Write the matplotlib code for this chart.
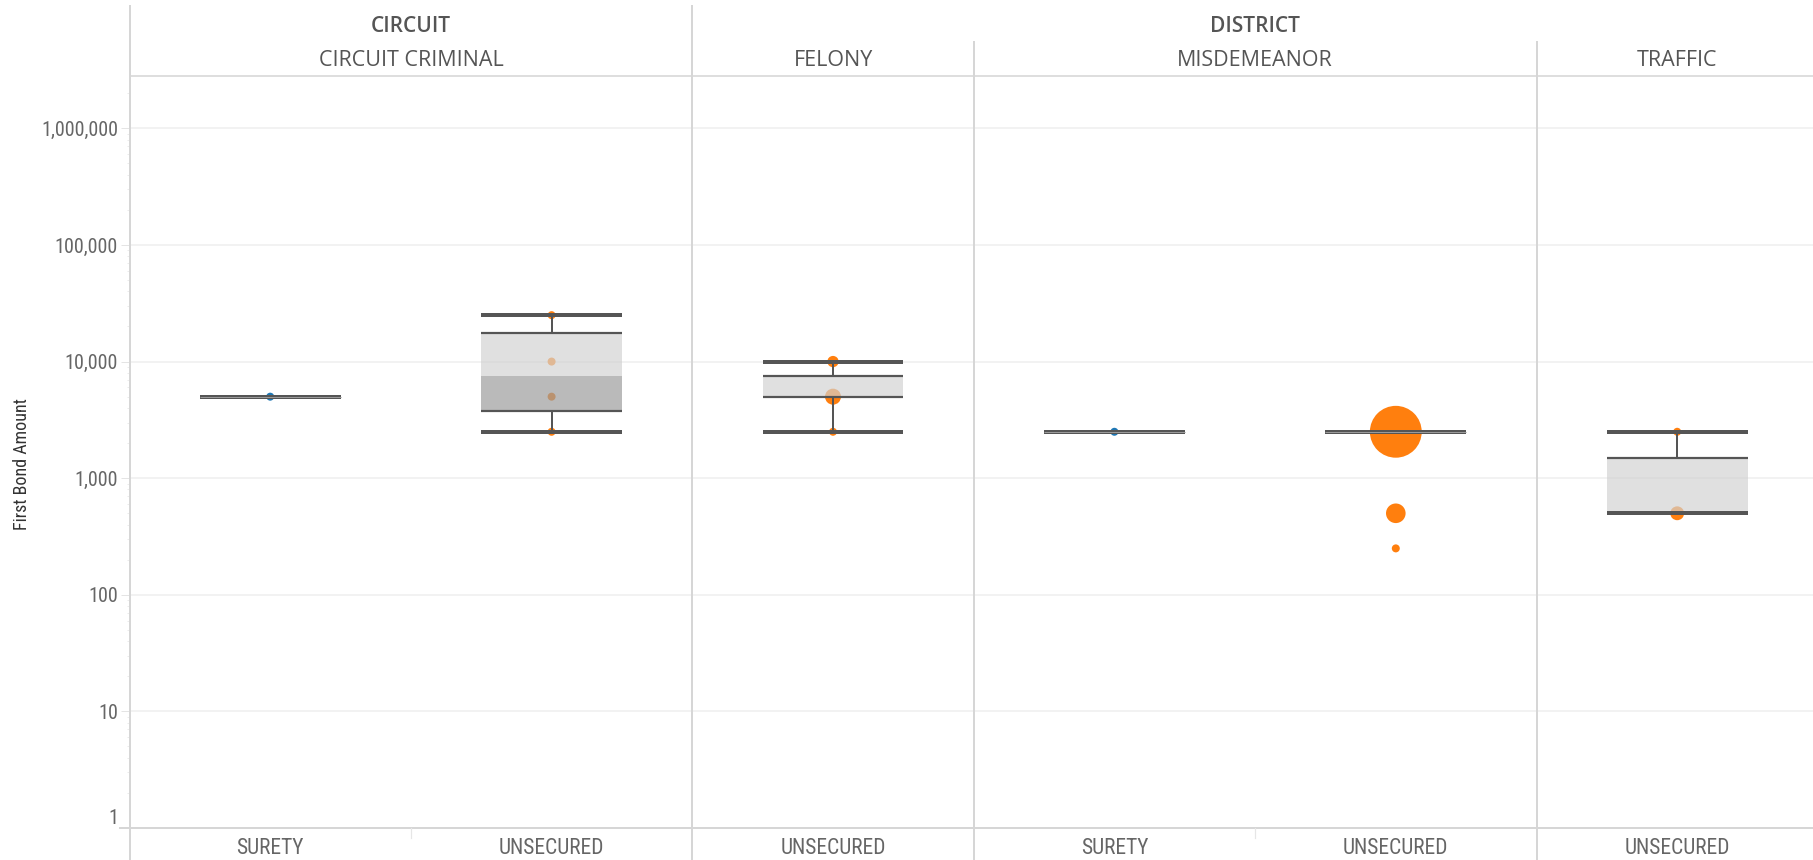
import numpy as np
import matplotlib
matplotlib.use('Agg')
import matplotlib.pyplot as plt
from matplotlib import font_manager as fm
from matplotlib.lines import Line2D
from matplotlib.transforms import blended_transform_factory

# ---------------- data ----------------
court = ['CIRCUIT', 'CIRCUIT', 'DISTRICT', 'DISTRICT', 'DISTRICT', 'DISTRICT']
case_type = ['CIRCUIT CRIMINAL', 'CIRCUIT CRIMINAL', 'FELONY', 'MISDEMEANOR', 'MISDEMEANOR', 'TRAFFIC']
bond_type = ['SURETY', 'UNSECURED', 'UNSECURED', 'SURETY', 'UNSECURED', 'UNSECURED']

# box-plot statistics
whislo = [5000, 2500, 2500, 2500, 2500, 500]
q1     = [5000, 3750, 5000, 2500, 2500, 500]
med    = [5000, 7500, 5000, 2500, 2500, 500]
q3     = [5000, 17500, 7500, 2500, 2500, 1500]
whishi = [5000, 25000, 10000, 2500, 2500, 2500]

# individual marks: column index, bond amount, number of records
pt_col   = [0, 1, 1, 1, 1, 2, 2, 2, 3, 4, 4, 4, 5, 5]
pt_val   = [5000, 25000, 10000, 5000, 2500, 10000, 5000, 2500, 2500, 2500, 500, 250, 2500, 500]
pt_count = [1, 1, 1, 1, 1, 2, 4, 1, 1, 42, 6, 1, 1, 3]

y_ticks = [1, 10, 100, 1000, 10000, 100000, 1000000]

# ---------------- styling ----------------
W, H, DPI = 1813, 860, 100
def pt(px):
    return px * 72.0 / DPI

names = {f.name for f in fm.fontManager.ttflist}
NARROW = 'Liberation Sans'
for cand in ['Liberation Sans Narrow', 'Arial Narrow', 'Roboto Condensed', 'DejaVu Sans Condensed',
             'Open Sans Condensed', 'Roboto']:
    if cand in names:
        NARROW = cand
        break
HEAD = 'Open Sans' if 'Open Sans' in names else 'DejaVu Sans'

BLUE = '#1f77b4'
ORANGE = '#ff7f0e'
LINE = '#555555'
DIV = '#d6d6d6'

fig = plt.figure(figsize=(W / DPI, H / DPI), dpi=DPI)
left_px, right_px, top_px, bottom_px = 129.5, 1813, 76, 828
col_w = 281.4
ax = fig.add_axes([left_px / W, 1 - bottom_px / H, (right_px - left_px) / W, (bottom_px - top_px) / H])
ax.set_yscale('log')
ax.set_xlim(-0.5, -0.5 + (right_px - left_px) / col_w)
ax.set_ylim(1, 10 ** 6.449)
for s in ax.spines.values():
    s.set_visible(False)

ax.set_yticks(y_ticks, [f'{v:,}' for v in y_ticks])
ax.yaxis.set_minor_locator(matplotlib.ticker.LogLocator(base=10, subs=np.arange(2, 10)))
ax.yaxis.set_minor_formatter(matplotlib.ticker.NullFormatter())
ax.yaxis.grid(True, which='major', color='#eeeeee', lw=pt(1.5), zorder=0)
ax.set_axisbelow(True)
ax.tick_params(axis='y', which='major', length=pt(8.6), width=pt(1), color='#e4e4e4',
               labelsize=14.5, labelcolor='#666666', pad=2)
ax.tick_params(axis='y', which='minor', length=pt(3), width=pt(1), color='#ececec')
for lab in ax.get_yticklabels():
    lab.set_fontfamily(NARROW)
    if lab.get_text() == '1':
        lab.set_verticalalignment('bottom')

xs = np.arange(len(bond_type))
ax.set_xticks(xs, bond_type)
ax.tick_params(axis='x', length=0, labelsize=15.5, labelcolor='#666666', pad=7)
for lab in ax.get_xticklabels():
    lab.set_fontfamily(NARROW)

# points
colors = [BLUE if bond_type[c] == 'SURETY' else ORANGE for c in pt_col]
sizes = [pt(8 * np.sqrt(n)) ** 2 for n in pt_count]
ax.scatter(pt_col, pt_val, s=sizes, c=colors, linewidths=0, zorder=2)

# boxes (semi-transparent fills drawn above the points)
q1a, meda, q3a = np.array(q1, float), np.array(med, float), np.array(q3, float)
bw = 0.5
ax.bar(xs, meda - q1a, bottom=q1a, width=bw, color=(156/255, 156/255, 156/255), alpha=0.69, lw=0, zorder=3)
ax.bar(xs, q3a - meda, bottom=meda, width=bw, color=(210/255, 210/255, 210/255), alpha=0.69, lw=0, zorder=3)
ax.vlines(xs, q3, whishi, color=LINE, lw=pt(2), zorder=4)
ax.vlines(xs, whislo, q1, color=LINE, lw=pt(2), zorder=4)
ax.hlines(q3, xs - bw / 2, xs + bw / 2, color=LINE, lw=pt(2.2), zorder=4)
ax.hlines(q1, xs - bw / 2, xs + bw / 2, color=LINE, lw=pt(2.2), zorder=4)
ax.hlines(whishi, xs - bw / 2, xs + bw / 2, color=LINE, lw=pt(4), zorder=5)
ax.hlines(whislo, xs - bw / 2, xs + bw / 2, color=LINE, lw=pt(4), zorder=5)
# thin light centre stripe where the whole box collapses onto one value
flat = [i for i in xs if whislo[i] == whishi[i]]
ax.hlines([whishi[i] for i in flat], [i - bw / 2 for i in flat], [i + bw / 2 for i in flat],
          color='#9a9a9a', lw=pt(1), zorder=6)

# ---------------- frame / headers ----------------
bt = blended_transform_factory(ax.transData, fig.transFigure)
def fy(px):
    return 1 - px / H

fig.add_artist(Line2D([120 / W, 1], [fy(bottom_px)] * 2, color=DIV, lw=pt(2), transform=fig.transFigure))
fig.add_artist(Line2D([left_px / W, 1], [fy(top_px)] * 2, color=DIV, lw=pt(1.6), transform=fig.transFigure))

for xb, ytop in [(-0.5, 6), (1.5, 6), (2.5, 42), (4.5, 42)]:
    fig.add_artist(Line2D([xb, xb], [fy(ytop), 0], color=DIV, lw=pt(2), transform=bt))
for xb in [0.5, 3.5]:
    fig.add_artist(Line2D([xb, xb], [fy(bottom_px), fy(838)], color='#e6e6e6', lw=pt(1.2), transform=bt))

groups1 = {}
for i, c in enumerate(court):
    groups1.setdefault(c, []).append(i)
for name, idx in groups1.items():
    fig.text(np.mean(idx), fy(26), name, transform=bt, ha='center', va='center',
             fontsize=15, fontweight='semibold', color='#555555', family=HEAD)
groups2 = {}
for i, c in enumerate(case_type):
    groups2.setdefault(c, []).append(i)
for name, idx in groups2.items():
    fig.text(np.mean(idx), fy(61), name, transform=bt, ha='center', va='center',
             fontsize=15.5, color='#555555', family=HEAD)

fig.text(22 / W, fy(464), 'First Bond Amount', rotation=90, ha='center', va='center',
         fontsize=13, color='#333333', family=NARROW)

fig.savefig('out.png', dpi=DPI)
